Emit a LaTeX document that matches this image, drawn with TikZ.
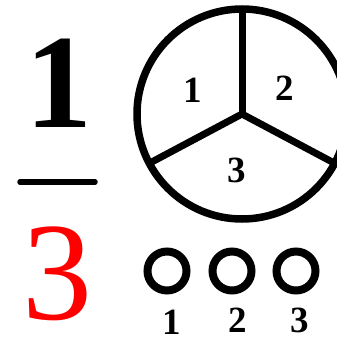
\documentclass[tikz,border=0pt]{standalone}
\usepackage{fontspec}
\setmainfont{Liberation Serif}
\begin{document}
\begin{tikzpicture}[x=1pt,y=-1pt,
  ring/.style={draw=black,line width=7.5pt},
  spoke/.style={draw=black,line width=7pt},
  dot/.style={draw=black,line width=8pt},
  lbl/.style={inner sep=0pt,font=\bfseries\fontsize{37}{37}\selectfont},
  bar/.style={draw=black,line width=5.5pt,line cap=round}]
\useasboundingbox (0,0) rectangle (337,340);
% wheel
\coordinate (c) at (242,114);
\coordinate (top) at (242,9);
\coordinate (left) at (149.3,163.3);
\coordinate (right) at (334.7,163.3);
\draw[ring] (c) circle[radius=105];
\draw[spoke] (c) -- (top);
\draw[spoke] (c) -- (left);
\draw[spoke] (c) -- (right);
\node[lbl] (w1) at (193,90) {1};
\node[lbl] (w2) at (285,88) {2};
\node[lbl] (w3) at (237,170) {3};
% fraction
\node[inner sep=0pt,font=\bfseries\fontsize{134}{134}\selectfont] (num) at (59,83) {1};
\coordinate (bl) at (20,182);
\coordinate (br) at (95,182);
\draw[bar] (bl) -- (br);
\node[inner sep=0pt,text=red,font=\fontsize{140}{140}\selectfont] (den) at (57,274) {3};
% three small circles
\coordinate (d1) at (167,271);
\coordinate (d2) at (232,271);
\coordinate (d3) at (296,271);
\draw[dot] (d1) circle[radius=19.5];
\draw[dot] (d2) circle[radius=19.5];
\draw[dot] (d3) circle[radius=19.5];
\node[lbl] (n1) at (172,322) {1};
\node[lbl] (n2) at (238,320) {2};
\node[lbl] (n3) at (300,320) {3};
\end{tikzpicture}
\end{document}
